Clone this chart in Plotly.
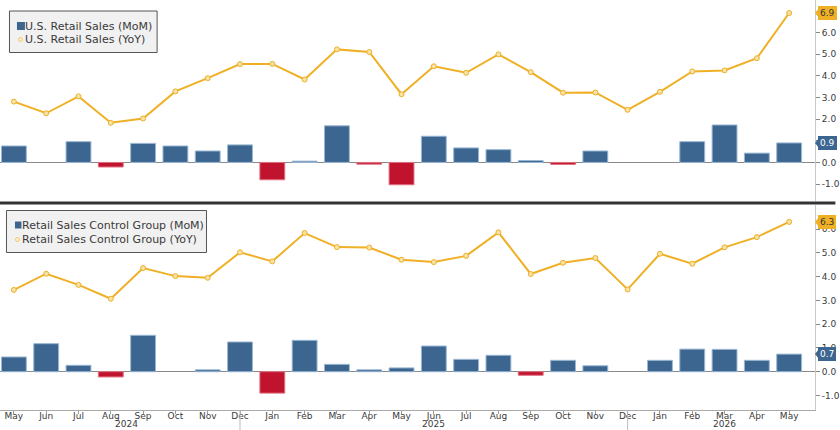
import plotly.graph_objects as go

months = ["May", "Jun", "Jul", "Aug", "Sep", "Oct", "Nov", "Dec",
          "Jan", "Feb", "Mar", "Apr", "May", "Jun", "Jul", "Aug", "Sep", "Oct", "Nov", "Dec",
          "Jan", "Feb", "Mar", "Apr", "May"]
years = ["2024"] * 8 + ["2025"] * 12 + ["2026"] * 5

rs_mom = [0.76, 0.0, 0.96, -0.21, 0.88, 0.76, 0.53, 0.81,
          -0.80, 0.06, 1.69, -0.08, -1.03, 1.21, 0.67, 0.59, 0.09, -0.09, 0.53, 0.0,
          0.0, 0.96, 1.73, 0.43, 0.9]
rs_yoy = [2.81, 2.27, 3.05, 1.83, 2.03, 3.28, 3.89, 4.54,
          4.55, 3.83, 5.22, 5.10, 3.15, 4.44, 4.14, 4.99, 4.17, 3.22, 3.23, 2.43,
          3.26, 4.20, 4.25, 4.81, 6.9]
cg_mom = [0.62, 1.18, 0.27, -0.22, 1.53, 0.0, 0.08, 1.25,
          -0.90, 1.32, 0.31, 0.08, 0.16, 1.08, 0.52, 0.69, -0.15, 0.48, 0.25, 0.0,
          0.48, 0.95, 0.94, 0.48, 0.74]
cg_yoy = [3.44, 4.12, 3.65, 3.07, 4.36, 4.02, 3.95, 5.02,
          4.64, 5.83, 5.24, 5.22, 4.71, 4.61, 4.87, 5.86, 4.11, 4.58, 4.78, 3.46,
          4.96, 4.54, 5.23, 5.66, 6.3]
tick_vals = [-1.0, 0.0, 1.0, 2.0, 3.0, 4.0, 5.0, 6.0]
year_label_pos = {"2024": 3.5, "2025": 13, "2026": 22}
top_names = ["U.S. Retail Sales (MoM)", "U.S. Retail Sales (YoY)"]
bot_names = ["Retail Sales Control Group (MoM)", "Retail Sales Control Group (YoY)"]

BLUE = "#3c6690"
RED = "#c0142e"
GOLD = "#efb025"
GOLD_FILL = "#f7e2a8"
TXT = "#3a3a3a"
FONT = "DejaVu Sans"

x = list(range(len(months)))
W, H = 817.0, 410.0

fig = go.Figure()

def add_panel(mom, yoy, names, xa, ya):
    colors = [BLUE if v >= 0 else RED for v in mom]
    lcolors = ["#9ab7d4" if v >= 0 else "#e07080" for v in mom]
    lw = [1 if v != 0 else 0 for v in mom]
    fig.add_trace(go.Bar(x=x, y=mom, name=names[0],
                         marker=dict(color=colors, line=dict(color=lcolors, width=lw)),
                         width=0.77, xaxis=xa, yaxis=ya, showlegend=False))
    fig.add_trace(go.Scatter(x=x, y=yoy, name=names[1], mode="lines+markers",
                             line=dict(color=GOLD, width=2),
                             marker=dict(size=5, color=GOLD_FILL, line=dict(color=GOLD, width=1)),
                             xaxis=xa, yaxis=ya, showlegend=False))

add_panel(rs_mom, rs_yoy, top_names, "x", "y")
add_panel(cg_mom, cg_yoy, bot_names, "x2", "y2")

xrange = [-0.43, len(months) - 1 + 0.80]
common_y = dict(side="right", tickvals=tick_vals, ticktext=[f"{v:.1f}" for v in tick_vals],
                ticks="outside", ticklen=4, tickcolor="#888", showgrid=False, zeroline=True,
                zerolinecolor="#8a8a8a", zerolinewidth=1, showline=True, linecolor="#c8c8c8",
                tickfont=dict(size=9, color=TXT, family=FONT))

fig.update_layout(
    width=840, height=430,
    margin=dict(l=0, r=23, t=0, b=20),
    paper_bgcolor="white", plot_bgcolor="white",
    barmode="overlay",
    font=dict(family=FONT, color=TXT),
    showlegend=False,
    xaxis=dict(domain=[0, 1], range=xrange, anchor="y", showticklabels=False, showgrid=False,
               zeroline=False, showline=False, matches="x2"),
    xaxis2=dict(domain=[0, 1], range=xrange, anchor="y2", tickvals=x, ticktext=months,
                tickfont=dict(size=9, color=TXT, family=FONT), ticks="outside", ticklen=3,
                ticklabelstandoff=-6,
                tickcolor="#999", showgrid=False, zeroline=False, showline=True, linecolor="#aaa"),
    yaxis=dict(domain=[(H - 201) / H, 1.0], range=[-1.78, 7.50], anchor="x", **common_y),
    yaxis2=dict(domain=[0, (H - 205) / H], range=[-1.61, 7.01], anchor="x2", **common_y),
)

def px(v):
    return v / W

def py(v):
    return 1 - v / H

# legend boxes (built from shapes + text)
def legend_box(names, box, sq, circ_x, text_x, rows):
    fig.add_shape(type="rect", xref="paper", yref="paper", x0=px(box[0]), x1=px(box[1]),
                  y0=py(box[2]), y1=py(box[3]), fillcolor="#f1f1f1", line=dict(color="#555", width=1))
    fig.add_shape(type="rect", xref="paper", yref="paper", x0=px(sq[0]), x1=px(sq[1]),
                  y0=py(sq[2]), y1=py(sq[3]), fillcolor=BLUE, line=dict(width=0))
    fig.add_shape(type="circle", xref="paper", yref="paper", x0=px(circ_x - 2), x1=px(circ_x + 2),
                  y0=py(rows[1] - 2), y1=py(rows[1] + 2), fillcolor="#fbf0d0",
                  line=dict(color="#f2c86a", width=1))
    for name, r in zip(names, rows):
        fig.add_annotation(x=px(text_x), xref="paper", y=py(r), yref="paper", xanchor="left",
                           yanchor="middle", text=name, showarrow=False,
                           font=dict(size=11, color=TXT, family=FONT))

legend_box(top_names, (9.5, 157.5, 11, 52.5), (17, 25, 22, 30), 20.5, 23.5, (26, 39.5))
legend_box(bot_names, (6.5, 207, 210.5, 252.5), (15, 21.5, 221.5, 228.5), 17.5, 20.5, (225, 239.5))

# separator between panels
fig.add_shape(type="line", xref="paper", yref="paper", x0=0, x1=1.025, y0=py(203), y1=py(203),
              line=dict(color="#333", width=3))

# year dividers and labels
for i in range(len(months) - 1):
    if years[i] != years[i + 1]:
        fig.add_shape(type="line", xref="x2", yref="paper", x0=i, x1=i, y0=0, y1=-0.05,
                      line=dict(color="#bbb", width=1))
for yr, pos in year_label_pos.items():
    fig.add_annotation(x=pos, xref="x2", y=0, yref="paper", yshift=-20, text=yr, showarrow=False,
                       font=dict(size=9, color=TXT, family=FONT), yanchor="bottom", borderpad=0)

# value tags
def tag(val, ya, bg, fg):
    fig.add_shape(type="path", xref="paper", yref=ya, xsizemode="pixel", ysizemode="pixel",
                  xanchor=1.0, yanchor=val, path="M 4,-5 L 0,0 L 4,5 Z",
                  fillcolor=bg, line=dict(width=0))
    fig.add_annotation(x=1.0, xref="paper", y=val, yref=ya, xanchor="left", xshift=3,
                       text=f"{val:.1f}", showarrow=False, bgcolor=bg, bordercolor=bg,
                       font=dict(size=9, color=fg, family=FONT), borderpad=1)

tag(rs_yoy[-1], "y", GOLD, "#333")
tag(rs_mom[-1], "y", BLUE, "white")
tag(cg_yoy[-1], "y2", GOLD, "#333")
tag(cg_mom[-1], "y2", BLUE, "white")

fig.write_html("out.html")
